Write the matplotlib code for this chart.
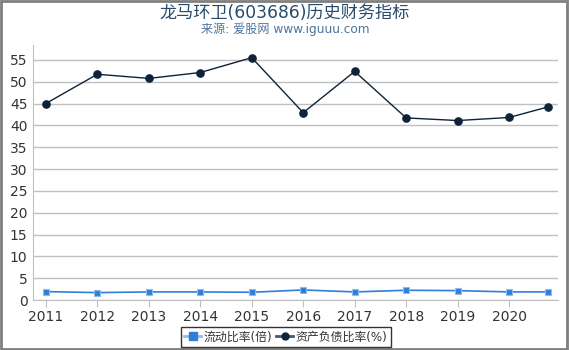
import matplotlib
matplotlib.use("Agg")
import matplotlib.pyplot as plt
from matplotlib.lines import Line2D

plt.rcParams['font.family'] = ['DejaVu Sans', 'Noto Sans CJK SC']

years = [2011, 2012, 2013, 2014, 2015, 2016, 2017, 2018, 2019, 2020, 2020.75]
tick_years = [2011, 2012, 2013, 2014, 2015, 2016, 2017, 2018, 2019, 2020]
current_ratio = [1.92, 1.69, 1.85, 1.85, 1.77, 2.3, 1.85, 2.23, 2.15, 1.85, 1.85]
debt_ratio = [45.0, 51.7, 50.75, 52.1, 55.5, 42.9, 52.35, 41.7, 41.1, 41.8, 44.2]
yticks = [0, 5, 10, 15, 20, 25, 30, 35, 40, 45, 50, 55]
title = "龙马环卫(603686)历史财务指标"
subtitle = "来源: 爱股网 www.iguuu.com"
labels = ["流动比率(倍)", "资产负债比率(%)"]

fig = plt.figure(figsize=(5.7, 3.5), dpi=100)
fig.patches.append(plt.Rectangle((0.002, 0.004), 0.993, 0.994, transform=fig.transFigure,
                                 fill=False, edgecolor='#7f7f7f', linewidth=2))
ax = fig.add_axes([33/570, 1-300/350, (558-33)/570, (300-45)/350])

blue = '#2f7ed8'
navy = '#0d233a'
ax.plot(years, current_ratio, color=blue, linewidth=1.2, marker='s', markersize=5,
        markerfacecolor=blue, markeredgecolor='#8fbbef', markeredgewidth=0.8, zorder=3)
ax.plot(years, debt_ratio, color=navy, linewidth=1, marker='o', markersize=5.2,
        markerfacecolor=navy, markeredgecolor=navy, zorder=3)

ax.set_xlim(2010.75, 2020.95)
ax.set_ylim(0, 58.4)
ax.set_yticks(yticks)
ax.set_xticks(tick_years)
ax.set_xticklabels([str(y) for y in tick_years])
ax.grid(axis='y', color='#c0c0c0', linewidth=1)
ax.set_axisbelow(True)
for s in ['top', 'right']:
    ax.spines[s].set_visible(False)
ax.spines['left'].set_color('#c0c0c0')
ax.spines['bottom'].set_color('#c0c0c0')
ax.tick_params(axis='y', length=0, labelsize=10, colors='#333333', pad=4)
ax.tick_params(axis='x', length=5, color='#c0c0c0', labelsize=10, colors='#333333', pad=2)

fig.text(0.5, 0.963, title, ha='center', va='center', fontsize=12.3, color='#274b6d')
fig.text(0.5, 0.916, subtitle, ha='center', va='center', fontsize=8.7, color='#4d759e')

handles = [Line2D([0], [0], color='#8fbbef', linewidth=2, marker='s', markersize=5.5,
                  markerfacecolor=blue, markeredgecolor=blue),
           Line2D([0], [0], color='#4a5a6a', linewidth=2, marker='o', markersize=5,
                  markerfacecolor=navy, markeredgecolor=navy)]
leg = fig.legend(handles, labels, loc='center', bbox_to_anchor=(286/570, 1-337/350), ncol=2,
                 frameon=True, fancybox=False, edgecolor='black', fontsize=8.6,
                 handlelength=1.4, handletextpad=0.25, columnspacing=0.3,
                 borderpad=0.3, labelcolor='#333333')
leg.get_frame().set_linewidth(1)

fig.savefig('out.png', dpi=100)
